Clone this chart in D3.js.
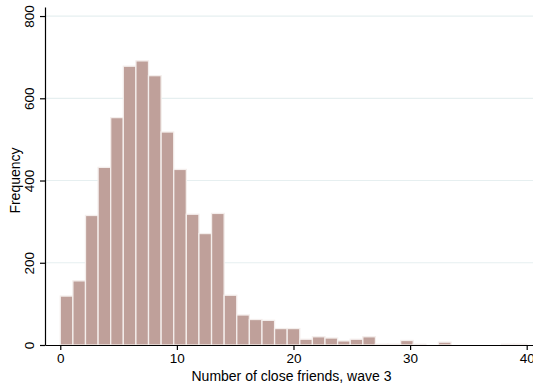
<!DOCTYPE html>
<html>
<head>
<meta charset="utf-8">
<script src="https://cdn.jsdelivr.net/npm/d3@7"></script>
<style>
  html, body { margin: 0; padding: 0; background: #ffffff; }
  svg { display: block; font-family: "Liberation Sans", Arial, Helvetica, sans-serif; }
</style>
</head>
<body>
<svg id="chart" width="533" height="389"></svg>
<script>
// Histogram of the number of close friends (wave 3): 37 equal bins over 0–40
const binRange = [0, 40];
const binCount = 37;
const frequencies = [
  119, 156, 315, 432, 553, 678, 691, 655, 518, 427,
  318, 271, 320, 121, 73, 62, 60, 40, 40, 14,
  20, 17, 10, 14, 20, 2, 2, 11, 2, 0,
  7, 0, 0, 0, 0, 2, 2
];
const xTicks = [0, 10, 20, 30, 40];
const yTicks = [0, 200, 400, 600, 800];
const xTitle = "Number of close friends, wave 3";
const yTitle = "Frequency";

const barFill = "#bfa09a";
const barEdge = "#f4eeec";
const gridColor = "#e6eff0";

const svg = d3.select("#chart");

const binWidth = (binRange[1] - binRange[0]) / binCount;
const bins = frequencies.map((f, i) => ({
  x0: binRange[0] + i * binWidth,
  x1: binRange[0] + (i + 1) * binWidth,
  n: f
}));

// Plot region: the axis lines run a little beyond the data range
const x = d3.scaleLinear().domain([-1.31, 40.54]).range([45, 533]);
const y = d3.scaleLinear().domain([0, 822]).range([345, 7]);

// horizontal grid lines
svg.append("g")
  .selectAll("line")
  .data(yTicks.filter(d => d > 0))
  .join("line")
  .attr("x1", 45).attr("x2", 533)
  .attr("y1", d => y(d)).attr("y2", d => y(d))
  .attr("stroke", gridColor)
  .attr("stroke-width", 1.2);

// bars
svg.append("g")
  .selectAll("rect")
  .data(bins.filter(b => b.n > 0))
  .join("rect")
  .attr("x", b => x(b.x0))
  .attr("width", b => x(b.x1) - x(b.x0))
  .attr("y", b => y(b.n))
  .attr("height", b => y(0) - y(b.n))
  .attr("fill", barFill)
  .attr("stroke", barEdge)
  .attr("stroke-width", 1.3);

// x axis
const gx = svg.append("g")
  .attr("transform", `translate(0,${y(0)})`)
  .call(d3.axisBottom(x).tickValues(xTicks).tickFormat(d3.format("d")).tickSize(5).tickSizeOuter(0).tickPadding(3));
gx.select(".domain").attr("stroke", "#000").attr("stroke-width", 1.2);
gx.selectAll(".tick line").attr("stroke", "#000").attr("stroke-width", 1.2);
gx.selectAll(".tick text").attr("font-size", 13.5).attr("fill", "#000")
  .attr("font-family", "Liberation Sans, Arial, sans-serif");

// y axis with labels turned vertical
const gy = svg.append("g")
  .attr("transform", `translate(${x(-1.31)},0)`)
  .call(d3.axisLeft(y).tickValues(yTicks).tickFormat(d3.format("d")).tickSize(5).tickSizeOuter(0));
gy.select(".domain").attr("stroke", "#000").attr("stroke-width", 1.2);
gy.selectAll(".tick line").attr("stroke", "#000").attr("stroke-width", 1.2);
gy.selectAll(".tick text")
  .attr("font-size", 13.5).attr("fill", "#000")
  .attr("font-family", "Liberation Sans, Arial, sans-serif")
  .attr("x", null).attr("dy", null)
  .attr("text-anchor", "middle")
  .attr("transform", "translate(-11.5,0) rotate(-90)");

// axis titles
svg.append("text")
  .attr("x", (x(0) + x(40)) / 2 - 2)
  .attr("y", 381)
  .attr("text-anchor", "middle")
  .attr("font-size", 14)
  .attr("fill", "#000")
  .text(xTitle);

svg.append("text")
  .attr("transform", `translate(19.5,${(y(0) + y(800)) / 2}) rotate(-90)`)
  .attr("text-anchor", "middle")
  .attr("font-size", 14)
  .attr("fill", "#000")
  .text(yTitle);
</script>
</body>
</html>
